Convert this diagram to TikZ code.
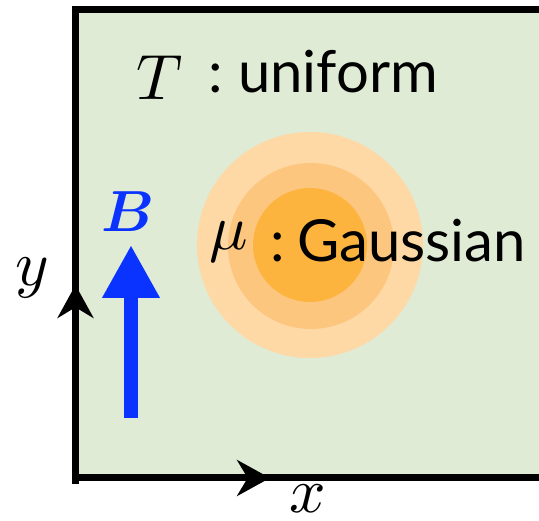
\documentclass[tikz,border=0pt]{standalone}
\usepackage{fontspec}
\usepackage{bm}
\usetikzlibrary{arrows.meta}
\newfontfamily\labelfont{Lato}
\newcommand{\bigmath}[1]{\scalebox{6.4}{$#1$}}
\definecolor{bggreen}{RGB}{223,235,212}
\definecolor{ringA}{RGB}{254,217,166}
\definecolor{ringB}{RGB}{253,198,126}
\definecolor{ringC}{RGB}{253,180,63}
\definecolor{bblue}{RGB}{10,51,255}
\tikzset{
  frame/.style={line width=7pt, black},
  axtip/.style={-{Stealth[length=33pt,width=36pt]}, line width=7pt},
  lbl/.style={inner sep=0pt, font=\labelfont\fontsize{58}{64}\selectfont},
  mathlbl/.style={inner sep=0pt},
}
\begin{document}
\begin{tikzpicture}[x=1pt,y=1pt]
\useasboundingbox (0,0) rectangle (539,-521);
\begin{scope}
\clip (0,0) rectangle (539,-521);
% background region
\fill[bggreen] (75,-10) rectangle (560,-478);
% Gaussian rings
\fill[ringA] (310,-245) circle (113);
\fill[ringB] (311,-246) circle (83);
\fill[ringC] (310,-245) circle (57);
% frame
\draw[frame] (560,-10) -- (72,-10);
\draw[frame] (75.5,-6.5) -- (75.5,-484);
\draw[frame] (72,-478) -- (560,-478);
\end{scope}
% axis arrowheads
\coordinate (xs) at (230,-478);
\coordinate (xe) at (270,-478);
\coordinate (ys) at (75.5,-325);
\coordinate (ye) at (75.5,-285);
\draw[axtip] (xs) -- (xe);
\draw[axtip] (ys) -- (ye);
% axis labels
\node[mathlbl, anchor=base] (xl) at (308,-513) {\bigmath{x}};
\node[mathlbl, anchor=base] (yl) at (32,-286) {\bigmath{y}};
% B arrow
\coordinate (bs) at (131,-418);
\coordinate (be) at (131,-245);
\draw[bblue, line width=14pt, -{Triangle[length=53pt,width=54pt]}] (bs) -- (be);
\node[inner sep=0pt, anchor=base, text=bblue] (bl) at (128,-232) {\scalebox{5.8}{$\bm{B}$}};
% T : uniform
\node[mathlbl, anchor=base] (tl) at (160,-100) {\bigmath{T}};
\node[lbl, anchor=base] (tc) at (216,-93) {:};
\node[lbl, anchor=base west] (tu) at (238,-93) {uniform};
% mu : Gaussian
\node[mathlbl, anchor=base] (ml) at (229,-250) {\bigmath{\mu}};
\node[lbl, anchor=base] (mc) at (278,-262) {:};
\node[lbl, anchor=base west] (mg) at (297,-262) {Gaussian};
\end{tikzpicture}
\end{document}
